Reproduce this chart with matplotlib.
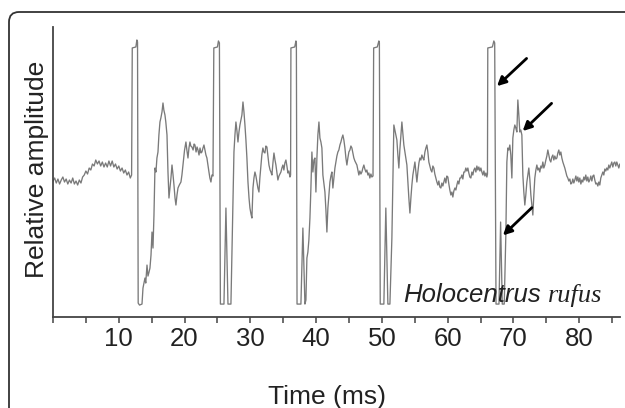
import numpy as np
import matplotlib
matplotlib.use("Agg")
import matplotlib.pyplot as plt
from matplotlib.patches import FancyBboxPatch
from matplotlib.transforms import IdentityTransform
from matplotlib.ticker import MultipleLocator

# trace: time in ms, amplitude in raw units (clip level ~ +/-132)
t_pre = [0.0, 0.25, 0.5, 0.75, 1.0, 1.25, 1.5, 1.75, 2.0, 2.25, 2.5, 2.75, 3.0, 3.25,
         3.5, 3.75, 4.0, 4.25, 4.5, 4.75, 5.0, 5.25, 5.5, 5.75, 6.0, 6.25, 6.5, 6.75,
         7.0, 7.25, 7.5, 7.75, 8.0, 8.25, 8.5, 8.75, 9.0, 9.25, 9.5, 9.75, 10.0, 10.25,
         10.5, 10.75, 11.0, 11.25, 11.5, 11.75, 11.95]
a_pre = [-9, -6, -11, -7, -12, -8, -5, -10, -7, -12, -8, -11, -6, -12, -9, -13, -8, -11,
         -5, -3, 1, -2, 4, 2, 8, 6, 12, 8, 11, 6, 10, 5, 9, 5, 11, 6, 11, 5, 8, 3, 6, 1,
         4, -1, 2, -3, 0, -6, -3]

t_p1 = [12.05, 12.6, 12.75, 12.85, 12.95, 13.15, 13.53, 13.68, 13.85, 13.98, 14.1, 14.29,
        14.44, 14.6, 14.74, 14.9, 15.05, 15.2, 15.35, 15.5, 15.65, 15.8, 15.96, 16.1,
        16.26, 16.4, 16.57, 16.72, 16.85, 17.02, 17.15, 17.33, 17.48, 17.63, 17.78, 17.93,
        18.09, 18.25, 18.39, 18.55, 18.69, 18.85, 19.0, 19.2, 19.45, 19.6, 19.76, 20.0,
        20.21, 20.35, 20.52, 20.67, 20.82, 20.95, 21.12, 21.3, 21.45, 21.58, 21.75, 21.9,
        22.04, 22.2, 22.35, 22.5, 22.64, 22.8, 22.95, 23.1, 23.25, 23.4, 23.55, 23.71,
        23.85, 24.01, 24.16, 24.32]
a_p1 = [124, 125, 132, 130, -131, -133, -132, -116, -110, -106, -111, -93, -104, -100,
        -96, -83, -60, -76, -43, 4, 0, 14, 20, 37, 50, 54, 60, 69, 62, 57, 50, 37, 0, -26,
        -16, -6, 7, -3, -13, -26, -33, -23, -16, -13, -10, -3, 7, 22, 30, 22, 14, 24, 30,
        26, 25, 22, 28, 27, 20, 25, 22, 17, 24, 19, 20, 24, 27, 22, 17, 14, 7, 0, -6, -10,
        -3, -4]

t_p2 = [24.45, 25.0, 25.15, 25.3, 25.45, 25.99, 26.29, 26.6, 27.05, 27.36, 27.51, 27.66,
        27.81, 27.95, 28.12, 28.27, 28.42, 28.57, 28.72, 28.88, 29.03, 29.18, 29.33, 29.48,
        29.64, 29.8, 29.94, 30.1, 30.24, 30.4, 30.55, 30.7, 30.85, 31.0, 31.15, 31.31,
        31.45, 31.61, 31.75, 31.91, 32.06, 32.22, 32.37, 32.52, 32.67, 32.83, 33.0, 33.13,
        33.28, 33.45, 33.59, 33.75, 33.89, 34.05, 34.19, 34.35, 34.5, 34.65, 34.8, 34.95,
        35.1, 35.25, 35.41, 35.56, 35.71, 35.86, 36.02, 36.12]
a_p2 = [124, 125, 131, 129, -132, -132, -36, -132, -132, -26, 20, 37, 50, 42, 30, 40, 47,
        52, 57, 70, 60, 47, 32, 14, -10, -26, -36, -42, -46, -16, -6, 0, -4, -10, -16, -20,
        -6, 7, 17, 24, 20, 19, 26, 25, 16, 7, 2, 0, -3, 10, 19, 12, 7, -1, -8, -4, -2, 0,
        4, 7, 2, 9, 12, 6, -1, 1, -5, -3]

t_p3 = [36.17, 36.75, 36.93, 37.0, 37.1, 37.69, 37.99, 38.3, 38.45, 38.6, 38.75, 38.9,
        39.06, 39.2, 39.36, 39.51, 39.67, 39.82, 39.97, 40.12, 40.27, 40.43, 40.58, 40.73,
        40.88, 41.03, 41.18, 41.34, 41.49, 41.64, 41.79, 41.95, 42.1, 42.25, 42.4, 42.55,
        42.7, 42.86, 43.01, 43.16, 43.31, 43.46, 43.62, 43.77, 43.92, 44.07, 44.22, 44.38,
        44.53, 44.68, 44.83, 44.98, 45.14, 45.29, 45.44, 45.59, 45.74, 45.9, 46.05, 46.2,
        46.35, 46.5, 46.65, 46.81, 46.96, 47.11, 47.26, 47.41, 47.57, 47.72, 47.87, 48.02,
        48.17, 48.33, 48.48, 48.65]
a_p3 = [124, 125, 131, 129, -132, -132, -56, -132, -128, -86, -80, -68, -46, -18, 20, 0,
        12, 14, -20, 14, 37, 50, 34, 30, 24, -3, -11, -20, -38, -60, -36, -23, -10, -4, 0,
        -16, -6, 4, 10, 16, 20, 22, 27, 30, 34, 37, 32, 24, 14, 7, 14, 20, 22, 26, 24, 19,
        14, 11, 9, 7, 2, -3, 1, -2, 0, 4, 7, 3, 0, 2, -3, -1, -6, -2, -5, -4]

t_p4 = [48.75, 49.3, 49.54, 49.62, 49.75, 50.3, 50.6, 50.91, 51.22, 51.52, 51.67, 51.82,
        51.97, 52.13, 52.28, 52.43, 52.58, 52.73, 52.89, 53.04, 53.19, 53.34, 53.5, 53.65,
        53.8, 53.95, 54.1, 54.26, 54.41, 54.56, 54.71, 54.87, 55.02, 55.17, 55.32, 55.47,
        55.63, 55.78, 55.93, 56.08, 56.23, 56.38, 56.54, 56.69, 56.84, 56.99, 57.14, 57.3,
        57.45, 57.6, 57.75, 57.9, 58.05, 58.2, 58.36, 58.51, 58.66, 58.81, 58.97, 59.12,
        59.27, 59.42, 59.57, 59.73, 59.88, 60.03, 60.18, 60.33, 60.49, 60.64, 60.79, 60.94,
        61.1, 61.25, 61.4, 61.55, 61.7, 61.86, 62.0, 62.16, 62.31, 62.46, 62.61, 62.76,
        62.92, 63.07, 63.22, 63.37, 63.53, 63.68, 63.83, 63.98, 64.13, 64.29, 64.44, 64.59,
        64.74, 64.9, 65.05, 65.2, 65.35, 65.51, 65.66, 65.81, 65.96, 66.05]
a_p4 = [124, 125, 131, 129, -132, -132, -36, -132, -132, -66, -8, 47, 42, 37, 32, 17, 4,
        22, 37, 50, 39, 27, 20, 14, 7, -10, -26, -41, -26, -13, -3, 4, 10, 0, -10, 0, 9,
        14, 12, 17, 14, 12, 20, 24, 27, 20, 10, 6, 2, 0, 6, 4, -2, -6, -10, -13, -9, -15,
        -16, -11, -14, -10, -6, -11, -4, -5, -12, -18, -23, -20, -25, -19, -16, -18, -13,
        -9, -12, -6, -6, -3, -7, 0, 0, 4, 1, 4, -1, -5, -6, 0, -3, 2, 4, 0, 6, 2, 5, 1, 4,
        0, -3, 1, -4, -1, -5, -2]

t_p5 = [66.1, 66.8, 67.02, 67.15, 67.35, 67.8, 68.05, 68.3, 68.6, 68.85, 69.0, 69.15,
        69.3, 69.45, 69.6, 69.76, 69.91, 70.06, 70.21, 70.36, 70.52, 70.67, 70.82, 70.97,
        71.12, 71.28, 71.43, 71.58, 71.73, 71.88, 72.04, 72.19, 72.34, 72.5, 72.65, 72.8,
        72.95, 73.1, 73.25, 73.41, 73.56, 73.71, 73.86, 74.01, 74.17, 74.32, 74.47, 74.62,
        74.77, 74.93, 75.08, 75.23, 75.38, 75.53, 75.68, 75.84, 75.99, 76.14, 76.29, 76.45,
        76.6, 76.75, 76.9, 77.05, 77.21, 77.36, 77.51, 77.66, 77.81, 77.97, 78.12, 78.27,
        78.42, 78.58, 78.73, 78.88, 79.03, 79.18, 79.33, 79.49, 79.64, 79.79, 79.94, 80.09,
        80.25, 80.4, 80.55, 80.7, 80.85, 81.0, 81.16, 81.31, 81.46, 81.61, 81.76, 81.92,
        82.07, 82.22, 82.37, 82.52, 82.67, 82.83, 82.98, 83.13, 83.28, 83.44, 83.59, 83.74,
        83.89, 84.04, 84.19, 84.35, 84.5, 84.65, 84.8, 84.95, 85.11, 85.26, 85.41, 85.56,
        85.71, 85.87, 86.02, 86.17, 86.32]
a_p5 = [124, 125, 131, 129, -132, -132, -50, -132, -132, -61, 10, 24, 22, 27, 17, -6, 34,
        42, 47, 44, 40, 72, 57, 40, 42, 37, -3, -20, -33, -23, -10, -3, 4, -8, -23, -33,
        -43, -23, -6, 2, 7, 2, 4, 0, 6, 4, 10, 4, 7, 12, 16, 22, 17, 12, 10, 15, 17, 12,
        16, 13, 14, 19, 22, 17, 20, 14, 10, 7, 4, 0, -4, -6, -9, -7, -12, -11, -7, -11, -8,
        -4, -9, -5, -10, -6, -12, -8, -10, -5, -8, -3, -9, -5, -10, -8, -4, -9, -4, -3, -8,
        -12, -11, -14, -10, -13, -6, -3, 0, -3, 3, 1, 4, 2, 7, 4, 7, 10, 5, 9, 10, 6, 10,
        7, 4, 8, 5]

clip_level = 132.0

# arrows marking features of the last pulse: (tail t, tail amp, head t, head amp)
arrows = [(72.0, 0.86, 67.5, 0.65),
          (75.8, 0.52, 71.4, 0.31),
          (72.8, -0.27, 68.4, -0.48)]

time = np.concatenate([t_pre, t_p1, t_p2, t_p3, t_p4, t_p5])
amp = np.concatenate([a_pre, a_p1, a_p2, a_p3, a_p4, a_p5]) / clip_level

plt.rcParams['font.family'] = ['Liberation Sans', 'DejaVu Sans']

fig = plt.figure(figsize=(6.25, 4.08), dpi=100)
ax = fig.add_axes([0.0848, 0.223, 0.9072, 0.7108])

ax.plot(time, amp, color='#7a7a7a', lw=0.95)

ax.set_xlim(0, 86.2)
ax.set_ylim(-1.098, 1.098)
ax.xaxis.set_major_locator(MultipleLocator(10))
ax.xaxis.set_minor_locator(MultipleLocator(5))
ax.set_xticks([10, 20, 30, 40, 50, 60, 70, 80])
ax.tick_params(axis='x', which='both', direction='out', length=4.5, width=1.1,
               color='#444444', labelsize=18.5, labelcolor='#222222', pad=3)
ax.tick_params(axis='y', left=False, labelleft=False)

for side in ['top', 'right']:
    ax.spines[side].set_visible(False)
for side in ['left', 'bottom']:
    ax.spines[side].set_color('#444444')
    ax.spines[side].set_linewidth(1.3)

fig.text(327.5 / 625, 4 / 408, 'Time (ms)', ha='center', va='baseline',
         fontsize=19, color='#222222')
fig.text(37 / 625, (408 - 169.5) / 408, 'Relative amplitude', rotation=90,
         ha='center', va='center', fontsize=19, color='#222222')

ax.text(53.2, -0.985, 'Holocentrus', style='italic', fontsize=18.5,
        color='#222222', va='baseline', ha='left')
ax.text(75.2, -0.985, 'rufus', style='italic', fontsize=19,
        family=['Liberation Serif', 'DejaVu Serif'], color='#222222',
        va='baseline', ha='left')

for tx, ty, hx, hy in arrows:
    ax.annotate('', xy=(hx, hy), xytext=(tx, ty),
                arrowprops=dict(arrowstyle='-|>', color='black', lw=2.0,
                                mutation_scale=13, shrinkA=0, shrinkB=0))

# rounded panel frame, open at right and bottom edge of the image
frame = FancyBboxPatch((9, -40), 700, 436,
                       boxstyle='round,pad=0,rounding_size=10',
                       transform=IdentityTransform(), fill=False,
                       ec='#333333', lw=1.3)
fig.add_artist(frame)

fig.savefig('out.png', dpi=100)
